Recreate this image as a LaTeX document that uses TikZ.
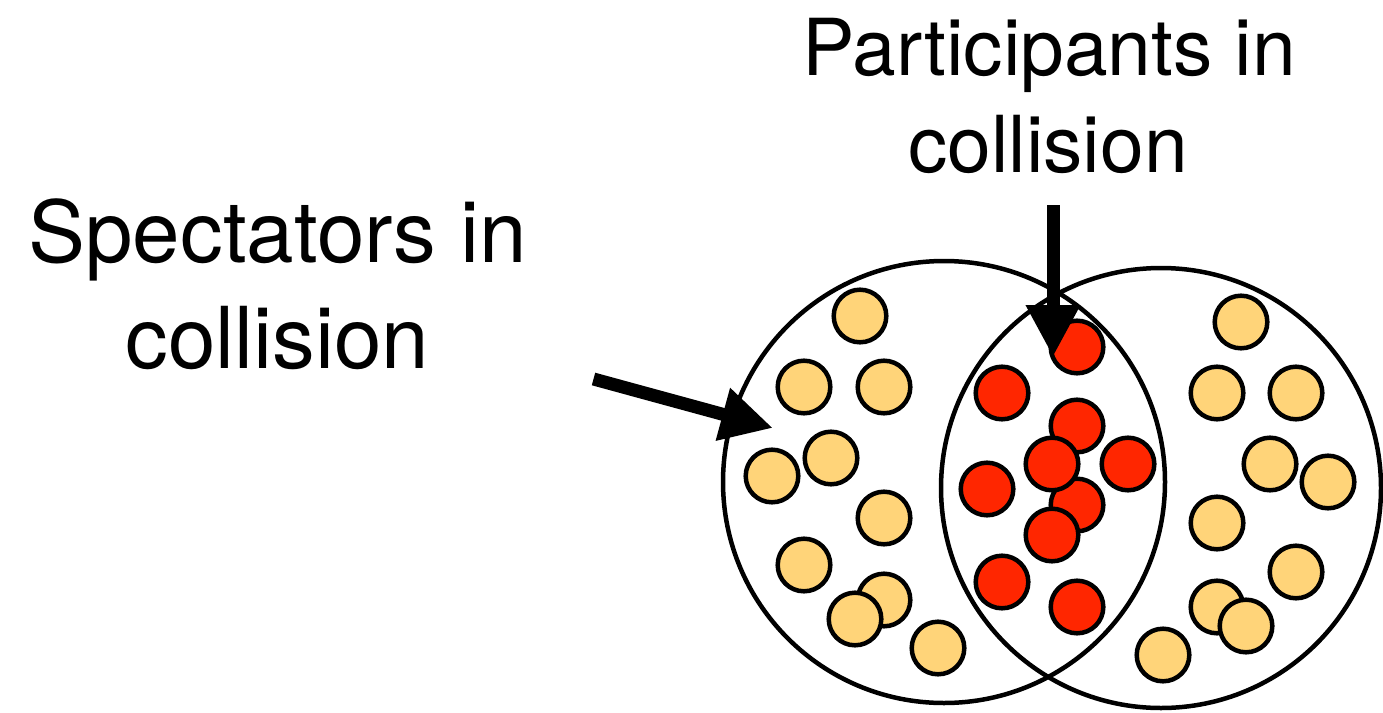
\documentclass[tikz,border=0pt]{standalone}
\usepackage{fontspec}
\setmainfont{TeX Gyre Heros}
\usetikzlibrary{arrows.meta}
\definecolor{cantaloupe}{HTML}{FFD479}
\definecolor{appred}{HTML}{FF2600}
\begin{document}
\begin{tikzpicture}[x=1pt,y=-1pt,
  bigring/.style={circle, draw, line width=4.5pt, minimum size=#1, inner sep=0pt},
  spect/.style={circle, draw, line width=4.5pt, fill=cantaloupe, minimum size=52.6pt, inner sep=0pt},
  partic/.style={spect, fill=appred},
  lblp/.style={font=\fontsize{78.6}{97}\selectfont, anchor=base, inner sep=0pt},
  lbls/.style={font=\fontsize{85.4}{106}\selectfont, anchor=base, inner sep=0pt},
  fatarrow/.style={line width=13pt, -{Triangle[length=52pt,width=51pt]}}
]
\useasboundingbox (0,0) rectangle (1383,712);
% nuclei
\node[bigring=442pt] (nucA) at (944,482) {};
\node[bigring=440pt] (nucB) at (1161,488) {};
% spectators left
\foreach \n/\x/\y in {a1/860/316, a2/804/387, a3/884/387, a4/772/476, a5/831/458,
                      a6/884/518, a7/804/565, a8/884/600, a9/855/619, a10/938/648}
  \node[spect] (\n) at (\x,\y) {};
% participants
\foreach \n/\x/\y in {p1/1077/347, p2/1002/393, p3/1077/426, p4/1128/464, p5/987/489,
                      p6/1077/505, p7/1052/464, p8/1052/535, p9/1002/582, p10/1077/607}
  \node[partic] (\n) at (\x,\y) {};
% spectators right
\foreach \n/\x/\y in {b1/1241/322, b2/1217/393, b3/1296/393, b4/1270/464, b5/1328/482,
                      b6/1217/523, b7/1296/572, b8/1217/607, b9/1246/626, b10/1163/655}
  \node[spect] (\n) at (\x,\y) {};
% labels
\node[lblp] (pl1) at (1049,75) {Participants in};
\node[lblp] (pl2) at (1048,172) {collision};
\node[lbls] (sl1) at (277.5,262) {Spectators in};
\node[lbls] (sl2) at (277.5,368) {collision};
% arrows
\coordinate (ptail) at (1053,205);
\coordinate (ptip) at (1053,357);
\coordinate (stail) at (593.5,379);
\coordinate (stip) at (773,428);
\draw[fatarrow] (ptail) -- (ptip);
\draw[fatarrow] (stail) -- (stip);
\end{tikzpicture}
\end{document}
